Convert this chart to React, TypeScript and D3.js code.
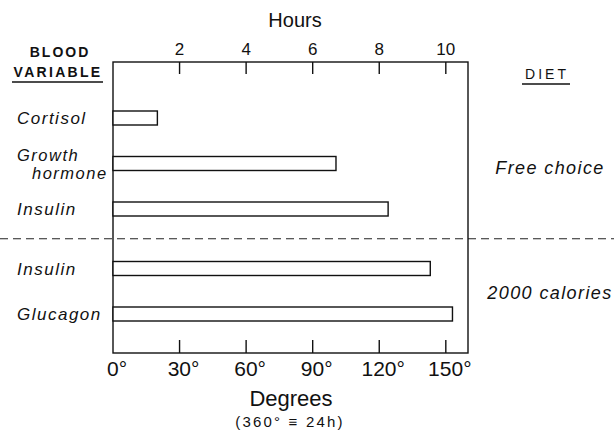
import * as d3 from "d3";

// blood variables, grouped by diet
const variables = ["Cortisol", "Growth\nhormone", "Insulin", "Insulin", "Glucagon"];
const diets = ["Free choice", "Free choice", "Free choice", "2000 calories", "2000 calories"];
const dietGroups = ["Free choice", "2000 calories"];
// phase in degrees (360° = 24h)
const degrees = [20, 100.5, 124, 143, 153];
const degreeTicks = [0, 30, 60, 90, 120, 150];
const hourTicks = [2, 4, 6, 8, 10];

const W = 614;
const H = 432;
const margin = { top: 62, right: 146, bottom: 79, left: 113 };
const FONT = "'Liberation Sans', Arial, sans-serif";

export default function App() {
  const x = d3.scaleLinear().domain([0, 160]).range([margin.left, W - margin.right]);
  const xHours = d3.scaleLinear().domain([0, 24]).range([x(0), x(360)]);

  // one row per bar, extra gap between the two diet groups
  const rowStep = 45.5;
  const groupGap = 14;
  const firstRow = 118;
  const yRow = (i: number) => {
    const g = dietGroups.indexOf(diets[i]);
    return firstRow + i * rowStep + g * groupGap;
  };
  const barH = 14;
  const lastFree = diets.lastIndexOf("Free choice");
  const dividerY = (yRow(lastFree) + yRow(lastFree + 1)) / 2;

  const bottom = H - margin.bottom;
  const left = margin.left;
  const right = W - margin.right;
  const top = margin.top;

  const groupCenter = (g: string) => {
    const idx = diets.map((d, i) => (d === g ? i : -1)).filter(i => i >= 0);
    return d3.mean(idx.map(yRow)) as number;
  };

  return (
    <svg
      width={W}
      height={H}
      style={{ position: "absolute", left: 0, top: 0, background: "#fff" }}
      fontFamily={FONT}
    >
      {/* dashed divider between diets */}
      <line x1={0} x2={W} y1={dividerY} y2={dividerY} stroke="#222" strokeWidth={1} strokeDasharray="8,5" />

      {/* frame */}
      <rect x={left} y={top} width={right - left} height={bottom - top} fill="none" stroke="#111" strokeWidth={1.4} />

      {/* top axis: hours */}
      {hourTicks.map(h => (
        <g key={"h" + h}>
          <line x1={xHours(h)} x2={xHours(h)} y1={top} y2={top + 12} stroke="#111" strokeWidth={1.4} />
          <text x={xHours(h)} y={55} textAnchor="middle" fontSize={17} fill="#111">{h}</text>
        </g>
      ))}
      <text x={295} y={27} textAnchor="middle" fontSize={20} fill="#111">Hours</text>

      {/* bottom axis: degrees */}
      {degreeTicks.map(d => (
        <g key={"d" + d}>
          {d > 0 && <line x1={x(d)} x2={x(d)} y1={bottom} y2={bottom - 13} stroke="#111" strokeWidth={1.4} />}
          <text x={x(d) + 4} y={376} textAnchor="middle" fontSize={21} fill="#111">{d}°</text>
        </g>
      ))}
      <text x={291} y={406} textAnchor="middle" fontSize={22} fill="#111">Degrees</text>
      <text x={290} y={427} textAnchor="middle" fontSize={15} fill="#111" letterSpacing={2.2}>(360° ≡ 24h)</text>

      {/* bars */}
      {degrees.map((d, i) => (
        <rect
          key={"b" + i}
          x={x(0)}
          y={yRow(i) - barH / 2}
          width={x(d) - x(0)}
          height={barH}
          fill="#fff"
          stroke="#111"
          strokeWidth={1.4}
        />
      ))}

      {/* variable labels */}
      {variables.map((v, i) => {
        const lines = v.split("\n");
        return lines.map((ln, j) => (
          <text
            key={"v" + i + j}
            x={j === 0 ? 17 : 32}
            y={lines.length > 1 ? yRow(i) - 3 + j * 18 : yRow(i) + 6}
            fontSize={lines.length > 1 ? 16.5 : 17}
            fontStyle="italic"
            letterSpacing={1.5}
            fill="#111"
          >
            {ln}
          </text>
        ));
      })}

      {/* left header */}
      <text x={60} y={57} textAnchor="middle" fontSize={14} fontWeight="bold" letterSpacing={2} fill="#111">BLOOD</text>
      <text x={58} y={77} textAnchor="middle" fontSize={14} fontWeight="bold" letterSpacing={2.3} fill="#111">VARIABLE</text>
      <line x1={12} x2={103} y1={82} y2={82} stroke="#111" strokeWidth={1.6} />

      {/* right header + diet labels */}
      <text x={547} y={79} textAnchor="middle" fontSize={14} letterSpacing={3} fill="#111">DIET</text>
      <line x1={522} x2={570} y1={84} y2={84} stroke="#111" strokeWidth={1.4} />
      {dietGroups.map(g => (
        <text
          key={"g" + g}
          x={550}
          y={groupCenter(g) + (g === "Free choice" ? 10 : 8)}
          textAnchor="middle"
          fontSize={18}
          fontStyle="italic"
          letterSpacing={1.4}
          fill="#111"
        >
          {g}
        </text>
      ))}
    </svg>
  );
}
